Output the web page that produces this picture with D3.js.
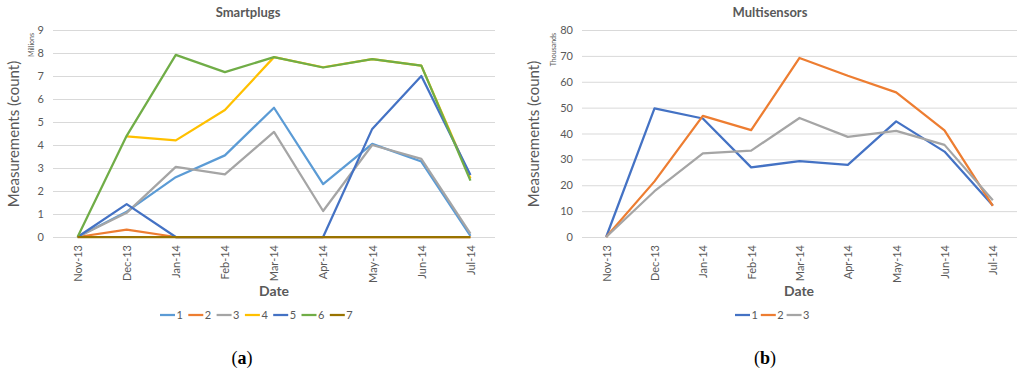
<!DOCTYPE html>
<html>
<head>
<meta charset="utf-8">
<script src="https://cdn.jsdelivr.net/npm/d3@7"></script>
<style>
  body { margin: 0; background: #fff; }
  svg { display: block; }
  text { font-family: Lato, "Open Sans", sans-serif; fill: #595959; }
</style>
</head>
<body>
<svg id="chart" width="1024" height="379"></svg>
<script>
// months on the x axis
var months = ['Nov-13','Dec-13','Jan-14','Feb-14','Mar-14','Apr-14','May-14','Jun-14','Jul-14'];

// Smartplugs (millions)
var plugNames = ['1','2','3','4','5','6','7'];
var plug1 = [0, 1.1, 2.6, 3.55, 5.62, 2.3, 4.05, 3.28, 0.05];
var plug2 = [0, 0.32, 0, 0, 0, 0, 0, 0, 0];
var plug3 = [0, 1.05, 3.05, 2.72, 4.57, 1.13, 4.0, 3.4, 0.15];
var plug4 = [null, 4.38, 4.2, 5.52, 7.82, 7.38, 7.73, 7.45, 2.55];
var plug5 = [0, 1.43, 0, 0, 0, 0, 4.7, 7.0, 2.7];
var plug6 = [0, 4.4, 7.92, 7.17, 7.82, 7.37, 7.73, 7.45, 2.45];
var plug7 = [0, 0, 0, 0, 0, 0, 0, 0, 0];
var plugTicks = [0,1,2,3,4,5,6,7,8,9];

// Multisensors (thousands)
var sensNames = ['1','2','3'];
var sens1 = [0, 49.7, 45.8, 26.9, 29.3, 27.9, 44.7, 33.0, 12.2];
var sens2 = [0, 21.5, 46.8, 41.3, 69.2, 62.3, 55.9, 41.2, 12.0];
var sens3 = [0, 17.7, 32.3, 33.4, 46.0, 38.7, 41.0, 35.6, 14.2];
var sensTicks = [0,10,20,30,40,50,60,70,80];

var svg = d3.select('#chart');

var panels = [
  { title: 'Smartplugs', unit: 'Millions', tag: 'a',
    x0: 53, x1: 495, max: 9, ticks: plugTicks,
    names: plugNames, series: [plug1, plug2, plug3, plug4, plug5, plug6, plug7],
    colors: ['#5B9BD5','#ED7D31','#A5A5A5','#FFC000','#4472C4','#70AD47','#997300'],
    legX: 160, legStep: 28.3, titleX: 248, yTitleX: 14, unitX: 32, dateX: 274, tagX: 242 },
  { title: 'Multisensors', unit: 'Thousands', tag: 'b',
    x0: 582, x1: 1017, max: 80, ticks: sensTicks,
    names: sensNames, series: [sens1, sens2, sens3],
    colors: ['#4472C4','#ED7D31','#A5A5A5'],
    legX: 735, legStep: 25.8, titleX: 770, yTitleX: 534, unitX: 554, dateX: 799, tagX: 765 }
];

panels.forEach(function(p) {
  var x = d3.scalePoint().domain(months).range([p.x0, p.x1]).padding(0.5);
  var y = d3.scaleLinear().domain([0, p.max]).range([237, 30]);
  var g = svg.append('g');

  // gridlines + y labels
  var yAxis = g.append('g')
    .attr('transform', 'translate(' + p.x0 + ',0)')
    .call(d3.axisLeft(y).tickValues(p.ticks).tickSize(-(p.x1 - p.x0)).tickPadding(9));
  yAxis.select('.domain').remove();
  yAxis.selectAll('line').attr('stroke', '#D9D9D9').attr('stroke-width', 1);
  yAxis.selectAll('text').style('font-size', '11px').attr('fill', '#595959')
    .style('font-family', 'Lato, sans-serif');

  // x labels
  var xAxis = g.append('g')
    .attr('transform', 'translate(0,237)')
    .call(d3.axisBottom(x).tickSize(0));
  xAxis.select('.domain').remove();
  xAxis.selectAll('text')
    .attr('transform', 'rotate(-90)')
    .attr('text-anchor', 'end')
    .attr('x', -8).attr('y', 0).attr('dy', '0.35em')
    .style('font-size', '11px').attr('fill', '#595959')
    .style('font-family', 'Lato, sans-serif');

  // lines
  var line = d3.line()
    .defined(function(d) { return d != null; })
    .x(function(d, i) { return x(months[i]); })
    .y(function(d) { return y(d); });

  p.series.forEach(function(s, i) {
    g.append('path')
      .datum(s)
      .attr('d', line)
      .attr('fill', 'none')
      .attr('stroke', p.colors[i])
      .attr('stroke-width', 2.25)
      .attr('stroke-linejoin', 'round');
  });

  // titles
  g.append('text').attr('x', p.titleX).attr('y', 17).attr('text-anchor', 'middle')
    .style('font-size', '13px').style('font-weight', 'bold').text(p.title);
  g.append('text').attr('transform', 'translate(' + p.yTitleX + ',134) rotate(-90)')
    .attr('text-anchor', 'middle').attr('dy', '0.35em')
    .style('font-size', '15px').text('Measurements (count)');
  g.append('text').attr('transform', 'translate(' + p.unitX + ',33) rotate(-90)')
    .attr('text-anchor', 'end').attr('dy', '0.35em')
    .style('font-size', '7px').attr('fill', '#7F7F7F').text(p.unit);
  g.append('text').attr('x', p.dateX).attr('y', 296).attr('text-anchor', 'middle')
    .style('font-size', '14px').style('font-weight', 'bold').text('Date');

  // legend
  var leg = g.selectAll('.leg').data(p.names).enter().append('g')
    .attr('transform', function(d, i) { return 'translate(' + (p.legX + i * p.legStep) + ',315)'; });
  leg.append('line').attr('x1', 0).attr('x2', 15).attr('y1', 0).attr('y2', 0)
    .attr('stroke', function(d, i) { return p.colors[i]; }).attr('stroke-width', 2.25);
  leg.append('text').attr('x', 16.5).attr('dy', '0.35em')
    .style('font-size', '11px').text(function(d) { return d; });

  // panel tag (a) / (b)
  var t = g.append('text').attr('x', p.tagX).attr('y', 364).attr('text-anchor', 'middle')
    .style('font-family', '"Liberation Serif", "DejaVu Serif", serif')
    .style('font-size', '18px').attr('fill', '#000');
  t.append('tspan').text('(').style('fill', '#000');
  t.append('tspan').text(p.tag).style('font-weight', 'bold').style('fill', '#000');
  t.append('tspan').text(')').style('fill', '#000');
});
</script>
</body>
</html>
